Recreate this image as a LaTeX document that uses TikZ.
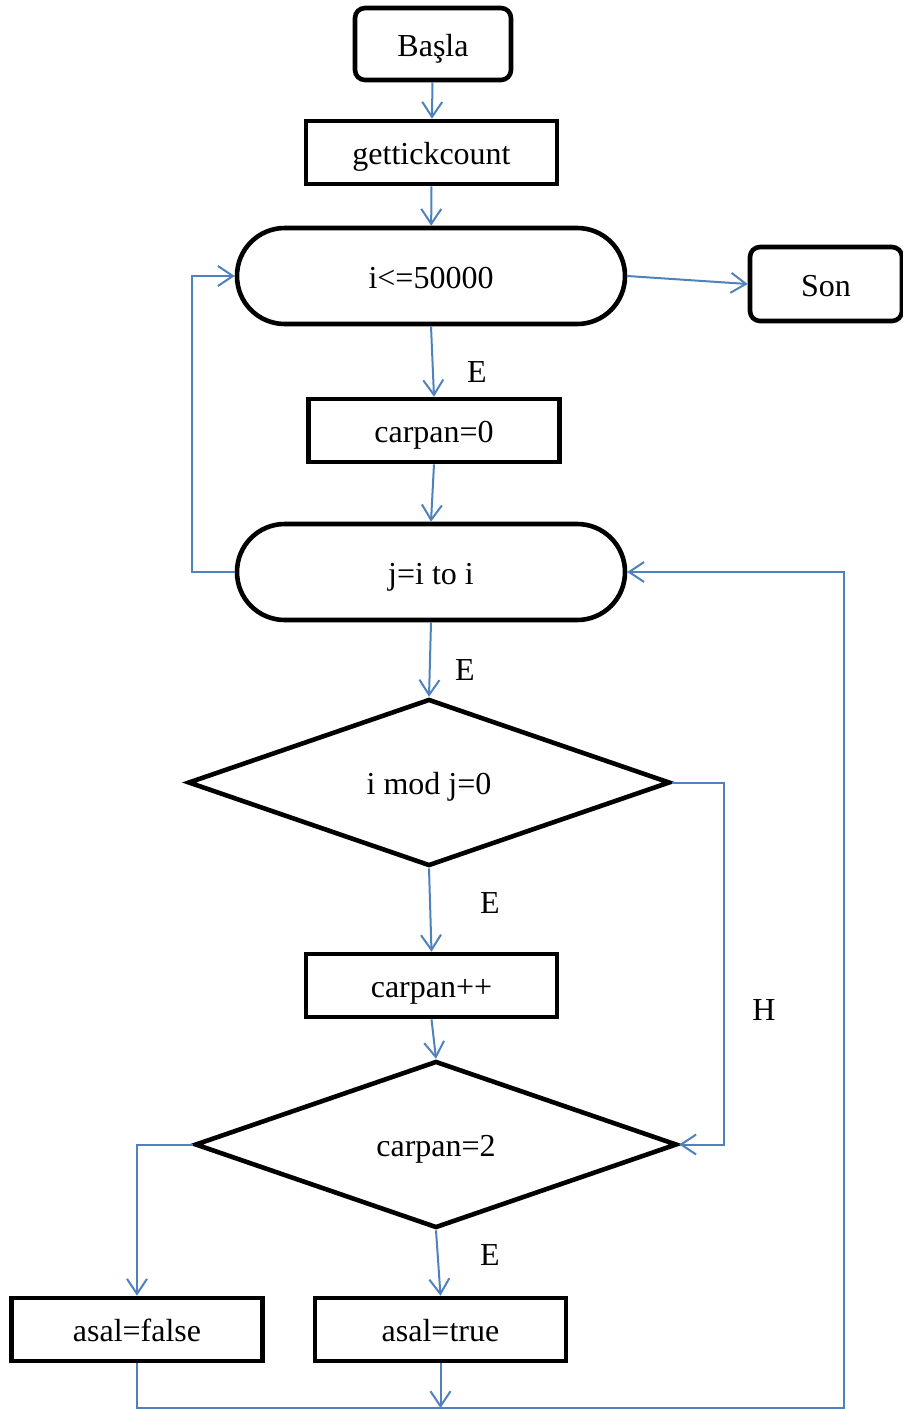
\documentclass[tikz,border=0pt]{standalone}
\usepackage{fontspec}
\setmainfont{Liberation Serif}
\usetikzlibrary{arrows.meta,shapes.geometric}
\definecolor{flowblue}{RGB}{79,129,189}

\begin{document}
\begin{tikzpicture}[x=0.5pt, y=-0.5pt,
  box/.style={draw, line width=2.3pt, minimum width=125.5pt, minimum height=31.5pt,
              inner sep=0pt, text height=12pt, text depth=0pt,
              font=\fontsize{16}{19}\selectfont},
  term/.style={box, rounded corners=5pt, minimum width=78pt, minimum height=36pt},
  loopbox/.style={box, rounded corners=23.9pt, minimum width=194pt, minimum height=48pt},
  cond/.style={box, diamond, aspect=2.9, minimum width=241pt, minimum height=83.5pt},
  flow/.style={draw=flowblue, line width=1pt, -{Straight Barb[length=7.5pt, width=10pt]}},
  lbl/.style={font=\fontsize{16}{19}\selectfont},
]
\useasboundingbox (0,0) rectangle (902,1409);

% Start
\node[term] (basla) at (433,44) {Başla};
\node[box] (tick) at (431.5,152.5) {gettickcount};

% Outer loop
\node[loopbox] (loopi) at (431,276) {i<=50000};
\node[term, minimum width=76pt, minimum height=37pt] (son) at (826,284) {Son};
\node[box] (carp0) at (434,430.5) {carpan=0};

% Inner loop
\node[loopbox] (loopj) at (431,572) {j=i to i};
\node[cond] (modj) at (429,782.5) {i mod j=0};
\node[box] (carppp) at (431.5,985.5) {carpan++};
\node[cond] (carp2) at (436,1144.5) {carpan=2};

% Result
\node[box] (asalf) at (137,1329.5) {asal=false};
\node[box] (asalt) at (440.5,1329.5) {asal=true};

% Labels
\node[lbl] (e1) at (477,372) {E};
\node[lbl] (e2) at (465,670) {E};
\node[lbl] (e3) at (490,903) {E};
\node[lbl] (h1) at (764,1010) {H};
\node[lbl] (e4) at (490,1255) {E};

% Turn points
\coordinate (lft) at (192,0);
\coordinate (rgt) at (724,0);
\coordinate (rb) at (844,1408);

% Connectors
\draw[flow] (basla) -- (tick);
\draw[flow] (tick) -- (loopi);
\draw[flow] (loopi.east) -- (son.west);
\draw[flow] (loopi.south) -- (carp0.north);
\draw[flow] (carp0.south) -- (loopj.north);
\draw[flow] (loopj.west) -- (loopj.west -| lft) |- (loopi.west);
\draw[flow] (loopj.south) -- (modj.north);
\draw[flow] (modj.south) -- (carppp.north);
\draw[flow] (modj.east) -- (modj.east -| rgt) |- (carp2.east);
\draw[flow] (carppp.south) -- (carp2.north);
\draw[flow] (carp2.west) -| (asalf.north);
\draw[flow] (carp2.south) -- (asalt.north);
\draw[flow] (asalf.south) |- (rb) |- (loopj.east);
\draw[flow] (asalt.south) -- (asalt.south |- rb);
\end{tikzpicture}
\end{document}
